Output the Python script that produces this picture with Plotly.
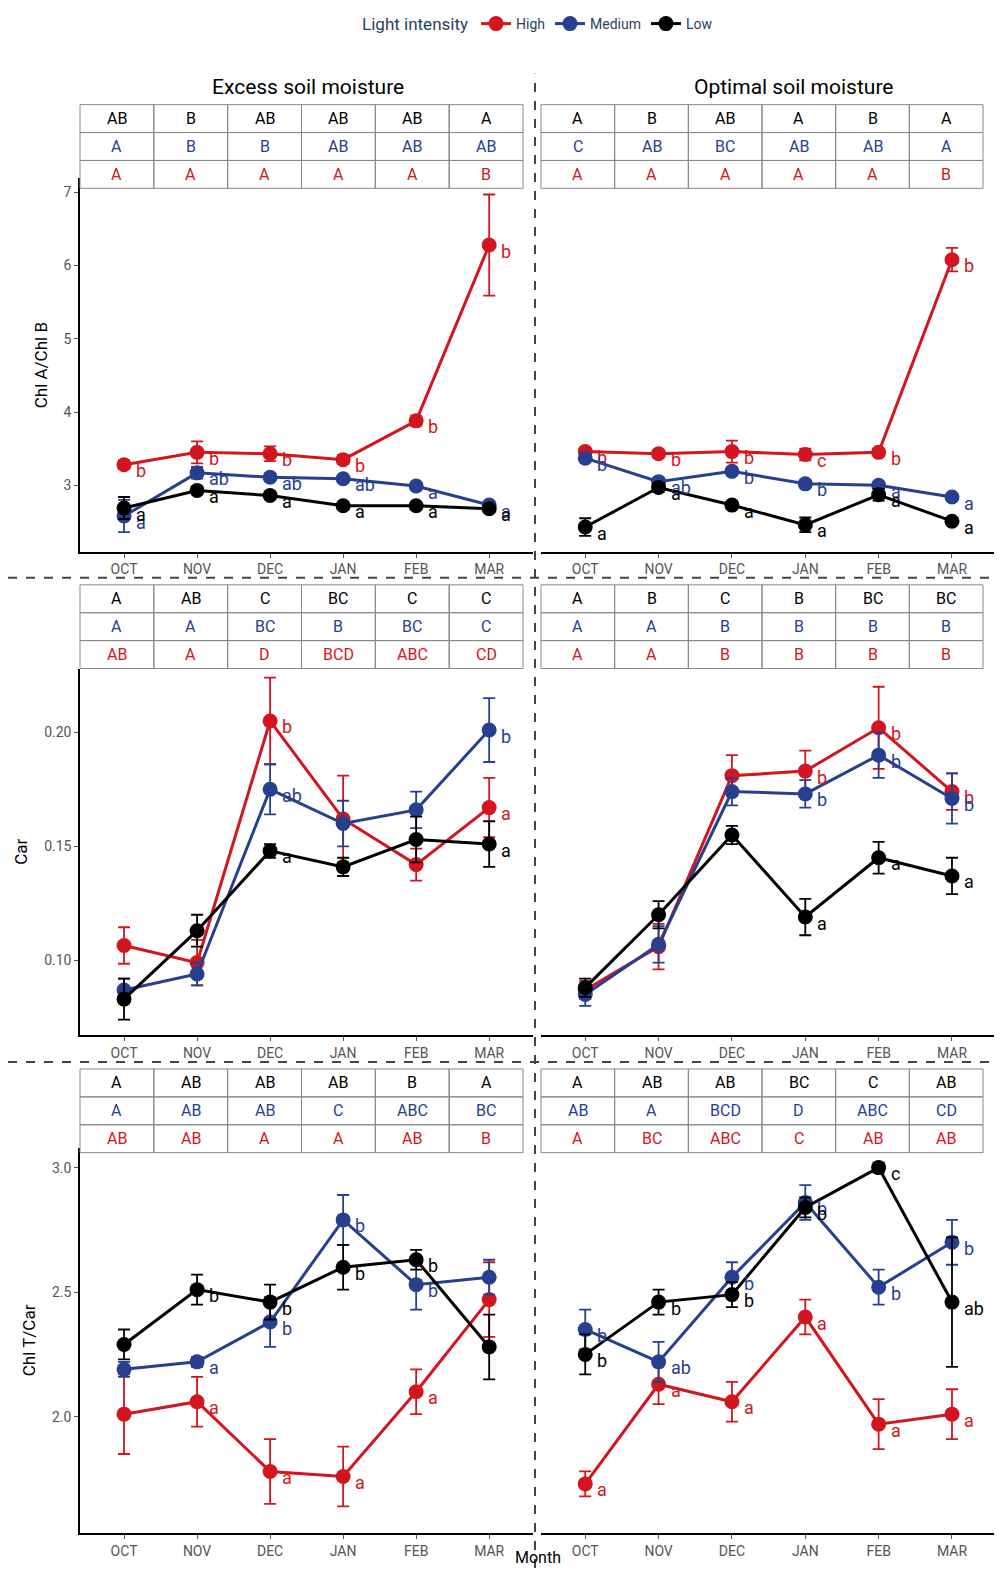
import plotly.graph_objects as go

months = ["OCT", "NOV", "DEC", "JAN", "FEB", "MAR"]
xs = [1, 2, 3, 4, 5, 6]
RED, BLUE, BLACK = "#d2151e", "#26408f", "#000000"

# panel data: series values, errors, letters
r1l = {"High": ([3.28, 3.45, 3.43, 3.35, 3.88, 6.28], [0.06, 0.15, 0.1, 0.06, 0.07, 0.69], ["b", "b", "b", "b", "b", "b"]),
       "Medium": ([2.58, 3.17, 3.11, 3.09, 2.99, 2.73], [0.22, 0.08, 0.05, 0.05, 0.05, 0.04], ["a", "ab", "ab", "ab", "a", "a"]),
       "Low": ([2.69, 2.93, 2.86, 2.72, 2.72, 2.68], [0.15, 0.05, 0.05, 0.04, 0.04, 0.04], ["a", "a", "a", "a", "a", "a"])}
r1r = {"High": ([3.46, 3.43, 3.46, 3.42, 3.45, 6.08], [0.05, 0.05, 0.15, 0.08, 0.05, 0.16], ["b", "b", "b", "c", "b", "b"]),
       "Medium": ([3.37, 3.05, 3.19, 3.02, 3.00, 2.84], [0.05, 0.05, 0.05, 0.05, 0.04, 0.04], ["b", "ab", "b", "b", "a", "a"]),
       "Low": ([2.43, 2.97, 2.73, 2.46, 2.87, 2.51], [0.12, 0.06, 0.05, 0.1, 0.08, 0.04], ["a", "a", "a", "a", "a", "a"])}
r2l = {"High": ([0.1065, 0.099, 0.205, 0.162, 0.142, 0.167], [0.008, 0.01, 0.019, 0.019, 0.007, 0.013], ["", "", "b", "", "", "a"]),
       "Medium": ([0.087, 0.094, 0.175, 0.160, 0.166, 0.201], [0.005, 0.005, 0.011, 0.01, 0.008, 0.014], ["", "", "ab", "", "", "b"]),
       "Low": ([0.083, 0.113, 0.148, 0.141, 0.153, 0.151], [0.009, 0.007, 0.003, 0.004, 0.01, 0.01], ["", "", "a", "", "", "a"])}
r2r = {"High": ([0.087, 0.106, 0.181, 0.183, 0.202, 0.174], [0.004, 0.01, 0.009, 0.009, 0.018, 0.008], ["", "", "", "b", "b", "b"]),
       "Medium": ([0.085, 0.107, 0.174, 0.173, 0.190, 0.171], [0.005, 0.008, 0.006, 0.006, 0.01, 0.011], ["", "", "", "b", "b", "b"]),
       "Low": ([0.088, 0.120, 0.155, 0.119, 0.145, 0.137], [0.004, 0.006, 0.004, 0.008, 0.007, 0.008], ["", "", "", "a", "a", "a"])}
r3l = {"High": ([2.01, 2.06, 1.78, 1.76, 2.10, 2.47], [0.16, 0.1, 0.13, 0.12, 0.09, 0.15], ["", "a", "a", "a", "a", ""]),
       "Medium": ([2.19, 2.22, 2.38, 2.79, 2.53, 2.56], [0.03, 0.02, 0.1, 0.1, 0.1, 0.07], ["", "a", "b", "b", "b", ""]),
       "Low": ([2.29, 2.51, 2.46, 2.60, 2.63, 2.28], [0.06, 0.06, 0.07, 0.09, 0.04, 0.13], ["", "b", "b", "b", "b", ""])}
r3r = {"High": ([1.73, 2.13, 2.06, 2.40, 1.97, 2.01], [0.05, 0.08, 0.08, 0.07, 0.1, 0.1], ["a", "a", "a", "a", "a", "a"]),
       "Medium": ([2.35, 2.22, 2.56, 2.86, 2.52, 2.70], [0.08, 0.08, 0.06, 0.07, 0.07, 0.09], ["b", "ab", "b", "b", "b", "b"]),
       "Low": ([2.25, 2.46, 2.49, 2.84, 3.00, 2.46], [0.08, 0.05, 0.05, 0.04, 0.02, 0.26], ["b", "b", "b", "b", "c", "ab"])}

# tables: rows Low (black), Medium (blue), High (red)
t1l = [["AB", "B", "AB", "AB", "AB", "A"], ["A", "B", "B", "AB", "AB", "AB"], ["A", "A", "A", "A", "A", "B"]]
t1r = [["A", "B", "AB", "A", "B", "A"], ["C", "AB", "BC", "AB", "AB", "A"], ["A", "A", "A", "A", "A", "B"]]
t2l = [["A", "AB", "C", "BC", "C", "C"], ["A", "A", "BC", "B", "BC", "C"], ["AB", "A", "D", "BCD", "ABC", "CD"]]
t2r = [["A", "B", "C", "B", "BC", "BC"], ["A", "A", "B", "B", "B", "B"], ["A", "A", "B", "B", "B", "B"]]
t3l = [["A", "AB", "AB", "AB", "B", "A"], ["A", "AB", "AB", "C", "ABC", "BC"], ["AB", "AB", "A", "A", "AB", "B"]]
t3r = [["A", "AB", "AB", "BC", "C", "AB"], ["AB", "A", "BCD", "D", "ABC", "CD"], ["A", "BC", "ABC", "C", "AB", "AB"]]

ytitles = ["Chl A/Chl B", "Car", "Chl T/Car"]
yranges = [[2.09, 7.19], [0.0672, 0.228], [1.532, 3.08]]
ytickv = [[3, 4, 5, 6, 7], [0.10, 0.15, 0.20], [2.0, 2.5, 3.0]]
ytickt = [["3", "4", "5", "6", "7"], ["0.10", "0.15", "0.20"], ["2.0", "2.5", "3.0"]]

W, H = 1002, 1580
panels = [[(r1l, t1l), (r1r, t1r)], [(r2l, t2l), (r2r, t2r)], [(r3l, t3l), (r3r, t3r)]]
rows_px = [(165, 540, 91), (657, 1025, 573), (1138, 1525, 1059)]
cols_px = [(72, 525, 72, 515), (533, 988, 533, 975)]
colors = {"High": RED, "Medium": BLUE, "Low": BLACK}

fig = go.Figure()
shapes, annots = [], []
layout = {}
k = 0
for r in range(3):
    top, bot, ttop = rows_px[r]
    for c in range(2):
        k += 1
        data, tab = panels[r][c]
        x0, x1, tx0, tx1 = cols_px[c]
        xa = "xaxis" if k == 1 else f"xaxis{k}"
        ya = "yaxis" if k == 1 else f"yaxis{k}"
        xr = "x" if k == 1 else f"x{k}"
        yr = "y" if k == 1 else f"y{k}"
        layout[xa] = dict(domain=[x0 / W, x1 / W], anchor=yr, range=[0.397, 6.6],
                          tickvals=xs, ticktext=months, showline=True, linecolor="black",
                          linewidth=1.5, ticks="outside", ticklen=4, tickcolor="#555",
                          tickfont=dict(size=14, color="#555"), showgrid=False, zeroline=False)
        layout[ya] = dict(domain=[1 - bot / H, 1 - top / H], anchor=xr, range=yranges[r],
                          tickvals=ytickv[r], ticktext=ytickt[r], showgrid=False, zeroline=False,
                          showline=(c == 0), linecolor="black", linewidth=1.5,
                          ticks="outside" if c == 0 else "", ticklen=4, tickcolor="#555",
                          showticklabels=(c == 0), tickfont=dict(size=14, color="#555"))
        if c == 0:
            layout[ya]["title"] = dict(text=ytitles[r], font=dict(size=17, color="black"), standoff=12)
        for name in ["High", "Medium", "Low"]:
            v, e, lab = data[name]
            fig.add_trace(go.Scatter(x=xs, y=v, xaxis=xr, yaxis=yr, mode="lines+markers",
                                     line=dict(color=colors[name], width=3),
                                     marker=dict(color=colors[name], size=15),
                                     error_y=dict(type="data", array=e, color=colors[name], thickness=1.8, width=6),
                                     name=name, showlegend=(k == 1), legendgroup=name))
            for i in range(6):
                if lab[i]:
                    annots.append(dict(x=xs[i], y=v[i], xref=xr, yref=yr, text=lab[i], showarrow=False,
                                       xanchor="left", yanchor="middle", xshift=10, yshift=-6,
                                       font=dict(size=18, color=colors[name])))
        # table
        cw = (tx1 - tx0) / 6
        rowcol = [BLACK, BLUE, RED]
        for ri in range(3):
            y0p = ttop + ri * 28
            for ci in range(6):
                shapes.append(dict(type="rect", xref="paper", yref="paper",
                                   x0=(tx0 + ci * cw) / W, x1=(tx0 + (ci + 1) * cw) / W,
                                   y0=1 - (y0p + 28) / H, y1=1 - y0p / H,
                                   line=dict(color="#888", width=1)))
                annots.append(dict(x=(tx0 + (ci + 0.5) * cw) / W, y=1 - (y0p + 14) / H, xref="paper", yref="paper",
                                   xanchor="center", yanchor="middle",
                                   text=tab[ri][ci], showarrow=False, font=dict(size=16, color=rowcol[ri])))

# dashed separators
shapes.append(dict(type="line", xref="paper", yref="paper", x0=527 / W, x1=527 / W, y0=1 - 1560 / H, y1=1 - 60 / H,
                   line=dict(color="#444", width=2, dash="dash")))
for yy in [566, 1052]:
    shapes.append(dict(type="line", xref="paper", yref="paper", x0=0, x1=1, y0=1 - yy / H, y1=1 - yy / H,
                       line=dict(color="#444", width=2, dash="dash")))

for xt, txt in [(300, "Excess soil moisture"), (785, "Optimal soil moisture")]:
    annots.append(dict(x=xt / W, y=1 - 73 / H, xref="paper", yref="paper", text=txt,
                       xanchor="center", yanchor="middle",
                       showarrow=False, font=dict(size=21, color="black")))
annots.append(dict(x=530 / W, y=1 - 1549 / H, xref="paper", yref="paper", text="Month",
                   xanchor="center", yanchor="middle",
                   showarrow=False, font=dict(size=16, color="black")))

fig.update_layout(width=W, height=H, margin=dict(l=0, r=0, t=0, b=0),
                  plot_bgcolor="white", paper_bgcolor="white",
                  font=dict(family="Roboto, Arial, sans-serif"),
                  shapes=shapes, annotations=annots,
                  legend=dict(orientation="h", x=0.53, xanchor="center", y=1.004, yanchor="top",
                              title=dict(text="Light intensity", font=dict(size=17)),
                              font=dict(size=14), itemwidth=30),
                  **layout)
fig.write_html("out.html")
